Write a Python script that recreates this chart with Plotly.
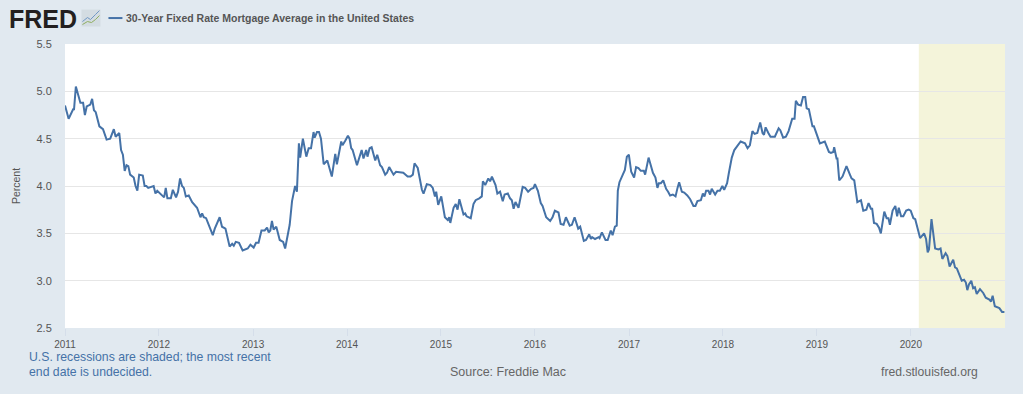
import pandas as pd
import plotly.graph_objects as go

START = pd.Timestamp("2011-01-01")
STEP_DAYS = 7.03

weeks_2011 = [0,2,4.5,5,6,7,8.5,10,11,12, 14,15,16,17,19,21,23,25,27,28, 30,31,32,33,34,35,36,38,39,40, 41,43,44,45,46,49,50,51,53]
rates_2011 = [4.85,4.71,4.81,4.81,5.05,4.99,4.88,4.88,4.75,4.84, 4.86,4.92,4.80,4.78,4.63,4.60,4.49,4.50,4.60,4.52, 4.56,4.38,4.33,4.16,4.22,4.21,4.12,4.09,4.0,3.95, 4.12,4.11,4.0,4.0,3.98,4.0,3.92,3.95,3.91]
weeks_2012 = [54.8,55.7,56.6,58.5,59.6,61.4,62.5,63.6,64.7,65.7, 66.8,68.4,70.3,73,73.9,74.9,75.8,76.7,78,81.7, 82.8,85.5,86.8,88.7,91,92.4,93.3,94.4,96.2,98.2, 101,102.5,104.3,105.6]
rates_2012 = [3.88,3.98,3.87,3.87,3.96,3.88,3.94,4.08,4.0,3.98, 3.89,3.90,3.83,3.77,3.73,3.67,3.71,3.67,3.66,3.48, 3.55,3.67,3.57,3.55,3.36,3.39,3.37,3.41,3.40,3.32, 3.34,3.38,3.35,3.40]
weeks_2013 = [107,108.6,110.4,111.7,112.6,113.5,114.4,115.3,116.8,118.7, 120.6,121.7,124.2,125.5,127.2,128.2,129.3,130,131.5,133.4, 134.7,136,137.4,138,139.3,140.4,141.5,143,145,146.6, 147.5,149.4,150.3,152.7,153.4,155]
rates_2013 = [3.40,3.53,3.53,3.56,3.51,3.53,3.63,3.54,3.57,3.43, 3.41,3.34,3.59,3.84,4.0,3.94,4.45,4.30,4.5,4.31, 4.40,4.40,4.57,4.51,4.57,4.57,4.5,4.23,4.27,4.14, 4.10,4.34,4.23,4.47,4.43,4.48]
weeks_2014 = [156.4,157.3,158.2,159,161.4,164,165,166.5,167.2,168.4, 169.5,171.5,172.6,174.2,175.2,177,178,179.2,181.6,183, 185.3,187,189.4,191,192.3,193.2,195,196.3,197.3,198.2, 200,202,203.3,204.5,205.2,206.3]
rates_2014 = [4.53,4.50,4.40,4.38,4.22,4.38,4.29,4.38,4.31,4.40, 4.41,4.27,4.33,4.22,4.20,4.12,4.14,4.20,4.12,4.15, 4.14,4.14,4.10,4.10,4.12,4.24,4.19,4.05,3.96,3.92, 4.02,4.01,3.98,3.89,3.94,3.80]
weeks_2015 = [208,210,211.6,212.4,213,214.8,216,217,218,220.3, 221.2,222,224.3,225.8,227,229,230.4,231,232.3,234, 235,236,238,239,240.5,242,243,244.8,246,247, 248,249,250.7,253,254.4,256,257.7,259,259.8]
rates_2015 = [3.89,3.67,3.64,3.67,3.61,3.77,3.81,3.75,3.86,3.70, 3.71,3.68,3.66,3.81,3.85,3.87,3.89,4.05,4.01,4.08, 4.05,4.10,4.01,3.92,3.94,3.84,3.91,3.92,3.87,3.85, 3.76,3.83,3.77,3.99,3.98,3.94,3.97,3.98,4.02]
weeks_2016 = [261.4,263,264,266,268.2,269.5,270.8,272.8,274,275.6, 276.9,279,280.2,281.7,283.7,284.8,286.8,288,289.8,290.7, 291.4,293,295,295.5,296.8,298.8,300,301.7,302.7,304, 305,305.6,306.5,309.5,310.6,311.7]
rates_2016 = [3.95,3.82,3.79,3.67,3.63,3.67,3.74,3.72,3.60,3.59, 3.67,3.58,3.59,3.67,3.55,3.57,3.42,3.43,3.49,3.44, 3.46,3.44,3.46,3.45,3.51,3.43,3.43,3.53,3.48,3.57, 3.58,3.95,4.04,4.17,4.31,4.33]
weeks_2017 = [313,314.6,315.7,317,318.3,320,320.7,322.6,323.5,325, 326.4,327.5,328.3,329.4,330.7,332.3,333.4,334.5,336,337.5, 338.6,339.5,341,342.3,344,345.6,347.4,348.5,349.6,351.5, 352.6,353.5,354.4,355.7,356.6,357.5,359.4,360.7,362,363.4, 364.4]
rates_2017 = [4.15,4.09,4.20,4.19,4.16,4.16,4.12,4.30,4.24,4.14, 4.09,3.98,4.03,4.03,4.06,3.97,3.94,3.90,3.91,3.89, 3.98,4.04,3.94,3.93,3.90,3.86,3.79,3.79,3.84,3.85, 3.92,3.89,3.95,3.95,3.91,3.97,3.91,3.95,3.95,4.0, 3.96]
weeks_2018 = [366,367,368.6,370,371.3,373.5,375.9,377.3,378.6,380, 381.2,382.7,384.3,385.6,386.4,387.3,388.8,390,392.4,394.5, 395.4,397,398.5,400,402,403.3,404,405.3,406.8,408, 409.2,410,411.2,413.2,414,415.5]
rates_2018 = [4.03,4.14,4.30,4.38,4.41,4.47,4.45,4.40,4.43,4.58, 4.55,4.56,4.67,4.56,4.54,4.62,4.56,4.52,4.52,4.61, 4.59,4.51,4.52,4.58,4.71,4.71,4.90,4.86,4.85,4.94, 4.94,4.82,4.81,4.63,4.63,4.54]
weeks_2019 = [417.3,420,422.3,423.4,424.7,425.2,426.5,427,428,429.8, 432,433.9,434.8,436.3,438,440,441.3,443,444.2,445.5, 446.2,447.2,448.7,450,451,452.9,454.2,455.2,456,457.5, 459,460,460.9,462.2,463.4,465,466.4,467.5,469,470]
rates_2019 = [4.45,4.47,4.36,4.35,4.36,4.41,4.29,4.29,4.06,4.10, 4.21,4.12,4.08,4.06,3.83,3.85,3.74,3.75,3.82,3.76, 3.76,3.61,3.60,3.56,3.50,3.73,3.66,3.66,3.59,3.74, 3.79,3.68,3.77,3.68,3.68,3.74,3.75,3.74,3.66,3.65]
weeks_2020 = [471.4,472.7,474.9,476,476.9,477.6,479,480,481,482.8, 484,485,486.8,487.8,489,491,492,493,494.7,495.7, 497,498,498.8,499.7,501,502,503,504,505.8,507.6, 509,511,511.9,512.8,514,516.5,518,519.3]
rates_2020 = [3.56,3.45,3.50,3.44,3.30,3.33,3.65,3.51,3.34,3.33, 3.34,3.23,3.29,3.26,3.15,3.22,3.14,3.13,3.04,3.0, 3.01,2.98,2.90,2.96,3.0,2.92,2.93,2.86,2.91,2.87, 2.82,2.80,2.78,2.84,2.73,2.71,2.67,2.67]

week_groups = [weeks_2011, weeks_2012, weeks_2013, weeks_2014, weeks_2015, weeks_2016, weeks_2017, weeks_2018, weeks_2019, weeks_2020]
rate_groups = [rates_2011, rates_2012, rates_2013, rates_2014, rates_2015, rates_2016, rates_2017, rates_2018, rates_2019, rates_2020]
weeks, rates = [], []
for w, r in zip(week_groups, rate_groups, strict=True):
    assert len(w) == len(r), (len(w), len(r))
    weeks += w
    rates += r
dates = [START + pd.Timedelta(days=w * STEP_DAYS) for w in weeks]

series_name = "30-Year Fixed Rate Mortgage Average in the United States"
y_ticks = [2.5, 3.0, 3.5, 4.0, 4.5, 5.0, 5.5]
year_ticks = [f"{y}-01-01" for y in range(2011, 2021)]
year_labels = [str(y) for y in range(2011, 2021)]
recession_start, recession_end = "2020-02-01", "2021-01-01"

BG = "#e1e9f0"
BLUE = "#4572a7"
GRID = "#e6e6e6"
TXT = "#666666"
FONT = "Liberation Sans, Arial, sans-serif"
W, H = 1023, 394
L, R, T, B = 64.5, 17.5, 43.5, 66
PW, PH = W - L - R, H - T - B

fig = go.Figure(go.Scatter(x=dates, y=rates, mode="lines", name=series_name,
                           line=dict(color=BLUE, width=2), showlegend=False))


def px(x):
    return (x - L) / PW


def py(y):
    return 1 - (y - T) / PH


fig.add_shape(type="rect", xref="x", yref="paper", x0=recession_start, x1=recession_end, y0=0, y1=1,
              fillcolor="#f4f4da", line_width=0, layer="below")


def note(text, x, y, size, color, anchor="left", bold=False):
    fig.add_annotation(text=f"<b>{text}</b>" if bold else text, xref="paper", yref="paper",
                       x=px(x), y=py(y), xanchor=anchor, yanchor="middle", showarrow=False,
                       font=dict(family=FONT, size=size, color=color), align="left")


note("FRED", 6, 18, 25, "#231f20", bold=True)
note(series_name, 124, 17.5, 10.5, "#555555", bold=True)
note("U.S. recessions are shaded; the most recent", 26.5, 357, 12.25, BLUE)
note("end date is undecided.", 26.5, 372, 12.25, BLUE)
note("Source: Freddie Mac", 448, 372, 12.5, TXT)
note("fred.stlouisfed.org", 879, 372, 12.2, TXT)

# legend key
fig.add_shape(type="line", xref="paper", yref="paper", x0=px(108), x1=px(122), y0=py(17.5), y1=py(17.5),
              line=dict(color=BLUE, width=2))
# logo badge
fig.add_shape(type="rect", xref="paper", yref="paper", x0=px(81), x1=px(100), y0=py(26), y1=py(9),
              fillcolor="#d3dce2", line_width=0)
fig.add_shape(type="path", xref="paper", yref="paper",
              path=f"M {px(82)} {py(21)} L {px(87)} {py(17)} L {px(90)} {py(19)} L {px(95)} {py(14)} L {px(99)} {py(10)}",
              line=dict(color="#6f97c4", width=1))
fig.add_shape(type="path", xref="paper", yref="paper",
              path=f"M {px(82)} {py(24)} L {px(87)} {py(21)} L {px(91)} {py(22)} L {px(95)} {py(19)} L {px(99)} {py(15)}",
              line=dict(color="#8fae5f", width=1))

fig.update_layout(
    width=W, height=H, autosize=False,
    paper_bgcolor=BG, plot_bgcolor="#ffffff",
    margin=dict(l=L, r=R, t=T, b=B, pad=0),
    font=dict(family=FONT, color=TXT, size=10),
    hovermode=False,
    xaxis=dict(type="date", range=["2011-01-01", recession_end], tickmode="array",
               tickvals=year_ticks, ticktext=year_labels, showgrid=False, zeroline=False,
               ticks="outside", ticklen=7, tickwidth=1, tickcolor="#d5deea", showline=False,
               tickfont=dict(size=10, color="#555555")),
    yaxis=dict(range=[2.5, 5.5], tickmode="array", tickvals=y_ticks, ticktext=[f"{v:.1f}" for v in y_ticks],
               showgrid=True, gridcolor=GRID, gridwidth=1, zeroline=False, showline=False,
               ticks="outside", ticklen=10, tickcolor=BG,
               tickfont=dict(size=11, color="#555555"),
               title=dict(text="Percent", standoff=13, font=dict(size=10.5, color="#555555"))),
)

fig.write_html("out.html", config=dict(displayModeBar=False),
               post_script="document.body.style.margin='0';document.body.style.overflow='hidden';")
